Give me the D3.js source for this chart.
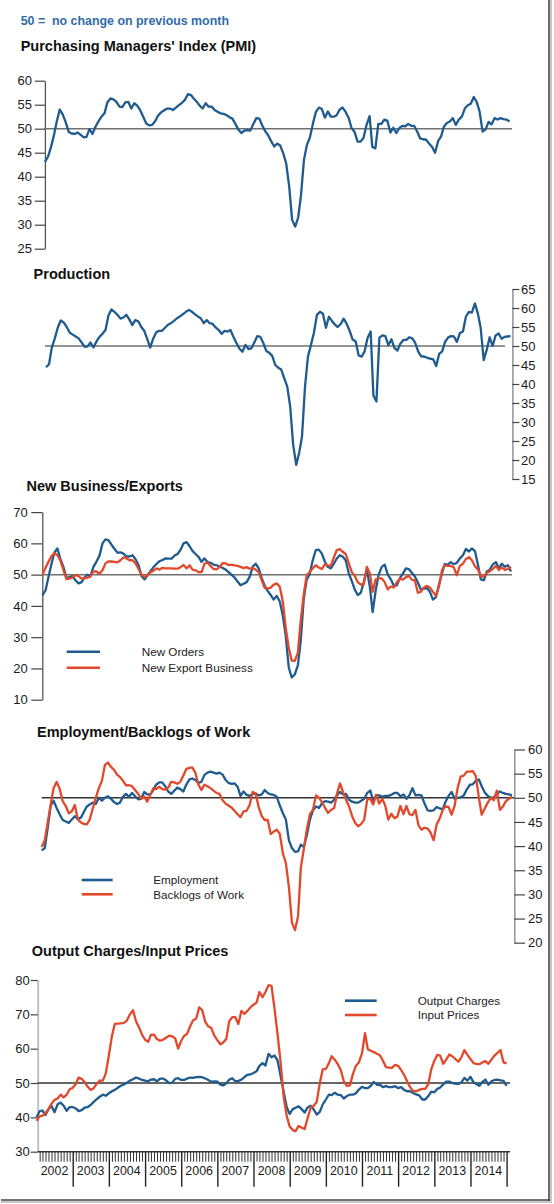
<!DOCTYPE html>
<html><head><meta charset="utf-8">
<script src="https://cdn.jsdelivr.net/npm/d3@7"></script>
<style>
body{margin:0;background:#fff}
svg{display:block}
text{font-family:"Liberation Sans",Arial,Helvetica,sans-serif}
</style>
</head><body>
<svg id="c" width="554" height="1204"></svg>
<script>
// ---------------- DATA (monthly, Jan 2002 .. Jan 2015) ----------------
const pmi = [
43.1,44.2,46,48.5,51.5,54,53,51.3,49.3,49,48.9,49.2,
48.7,48.2,48.3,49.9,48.9,50.4,51.5,52.5,53.2,55.5,56.3,56.1,
55.6,54.6,54.5,55.5,55.6,54.2,55.3,54.8,53.8,52.5,51.1,50.7,
50.8,51.6,52.7,53.4,53.8,54.2,54.2,53.9,54.4,54.9,55.4,56,
57.2,57,56.3,55.6,54.8,54.2,55.3,54.6,54.6,53.9,53.5,53.2,
53.1,52.8,52.4,52.1,51,49.8,49.1,49.6,49.7,49.6,51,52.2,
52.1,50.6,49.5,48.6,47.4,46.3,46.9,46.5,44.9,42.8,38,31,
29.6,31.5,36,43.5,46.6,48.2,51,53.5,54.4,54.1,52.3,53.6,
52.5,52.5,52.8,54,54.4,53.5,52.3,50.1,49.3,47.3,47.3,48.1,
50.8,52.6,46.2,45.9,51,51,51.9,51.7,49.2,50.2,49.1,50.1,
50.6,50.5,51,50.6,50.6,49.4,48,47.8,47.7,46.9,46.2,45,
47.4,48.4,50.4,51.2,51.5,52.2,50.8,51.9,52.5,54.2,54.9,55.2,
56.6,55.5,53.6,49.4,49.8,51.4,50.9,52.2,51.9,52.2,52,51.9,
51.5];
const production = [
44.4,45.2,49.5,52,54.8,56.7,56.2,55,53.5,53,52.5,52,
50.9,49.8,49.9,50.9,49.6,51.2,52.4,53.2,54.2,58,59.6,59,
58.2,57.2,57.5,58.2,57,55.5,56.8,56.5,55,54,51.8,49.6,
52,53.6,54,54,54.8,55.6,56,56.6,57.3,57.8,58.4,59,
59.5,59,58.4,57.8,57.3,56,56.8,56,55.8,54.9,54.2,53.2,
54,53.8,54.2,52.4,50.8,49.3,48.5,50.3,49.2,49.4,51,52.6,
52.4,50.7,48.7,48.2,47.4,45,44.3,43.8,41.5,39.4,34,24,
18.7,22,26.1,39.3,47.2,50.3,53.5,58.2,59,58.5,54.8,57.7,
56.6,55.6,55,55.8,57.2,55.8,54,51.7,51.2,47.5,47.2,48.6,
52.2,53.8,37,35.4,52.2,52.8,52.6,50.2,51.8,49.5,48.8,50.6,
51.6,51.6,52.3,52,50.8,48.5,47.3,47.2,46.9,46.7,46.5,44.7,
47.9,48.6,51,52.2,52.6,52.5,51.1,53.4,53.8,57.7,59,58.8,
61.2,58.5,54.8,46.3,48.9,52.3,50,52.8,53.3,51.9,52.4,52.5,
52.6];
const newOrders = [
43.4,45,49,53.3,57,58.4,55,52.5,48.9,49.2,49.5,48.2,
47.2,47.6,49,50,49.4,52.5,54.1,56,60,61.3,61,59.6,
58.2,57,57.1,56.7,55.8,55.8,56.2,54.9,53,49.5,48.5,49.8,
51.2,52.5,53.4,54.3,54.7,55.2,55.1,55.1,56.1,56.6,58,60,
60.4,59,57.6,56.6,55.7,54.1,55.2,54,53.8,53.2,53,52.6,
52.1,51.6,50.8,49.9,49.1,47.8,46.6,47.1,47.6,49.3,52.5,53.5,
52,48.9,46.5,44.8,43.5,42,43.2,41.5,37,30.4,20.3,17.1,
18.1,21,28.5,42,48.3,50.2,54.5,57.8,58,56.8,54.2,52.5,
52,53.5,55.1,56.2,55.8,54.6,50.5,48,45.2,43.5,44.2,47.6,
51.6,46,38,45,50,52.5,53.2,50,48.5,46.5,46.6,48.8,
50.3,52,51.8,50.6,49.5,47.5,45.2,45.5,45.7,44.5,42,42.8,
46.8,50.5,53.4,53.2,54,53.3,53.8,55.2,56.2,58.2,57.4,58.4,
57.5,53,48.5,48.2,51,51.6,53.3,54,52,53.5,52.5,53,
51];
const newExportBusiness = [
50,52.2,54,55.9,56.8,56.3,54.5,51.5,48.6,48.7,49.1,49.9,
49.5,48.7,48.9,49,49.4,51,51,50.3,51.4,53.6,54.2,54.2,
54.1,53.9,54.6,55.5,55.2,54.6,54.6,53.6,51.8,50,49.2,49.9,
50.8,51.3,52,51.6,52.2,52,52,52,51.9,51.9,52.4,53.1,
52,53,51.6,51.4,50.8,50.8,53.5,53.8,52.7,51.8,51.7,52.4,
53.7,53.6,53.1,53.1,53,52.8,52.5,52.1,52.4,51.9,52.1,51.6,
50.8,48.2,45.8,45.6,45.8,46.8,47.2,46.2,41.5,33,26.5,22.5,
22.4,25,35,43.5,49.8,50.8,52,53,52.3,51.8,53.3,53,
52.8,55.5,57.8,58.2,57.3,56.6,53.8,50.8,49.6,47.6,46.8,47,
52.5,50.3,44.5,48.5,48.8,48.8,47.6,45.3,46.2,45.9,47.6,48.7,
48.4,49.2,49.6,48.4,48.2,44.2,44.5,45.9,46.4,45.8,44.5,43.2,
46.2,51.4,53,52.8,52.8,52.3,49.8,52.8,53.5,55,55.6,54.6,
52.7,51.6,49.5,49.4,50.6,51.1,51.8,52.8,51.5,52.3,51.5,51.8,
52.5];
const employment = [
39.1,39.6,43.5,48.3,49.4,47.9,46.6,45.4,45.1,44.8,45.5,46.2,
45.6,45.9,47,48.2,48.6,49,48.7,50,49.4,50,50.3,49.8,
49.1,48.7,49,50.2,50.8,50.2,51,50.3,49.7,49.8,51.2,50.7,
50.7,51.6,52.7,53.2,53.2,52.4,51.3,50.8,51.5,52.1,51.8,51.3,
52.8,53.8,54,53.7,53.1,53.3,54.7,55.2,55.4,55.2,55,55.2,
54.8,53.7,53.1,52.9,53,52.3,50.4,51.3,50.6,50.4,50.8,50.9,
50.5,50.7,51.6,51,50.7,50.6,50.2,48.4,46.8,45.5,41.2,39.6,
38.8,38.9,40.3,39.8,42.3,45.5,47.4,48.2,47.9,48.9,49.3,49.2,
49,49.6,50.5,51.2,50.7,50.8,49.6,49.2,49,49,49.4,49.8,
51,51.5,49.3,50.5,50.5,50.2,50.4,50.4,50.6,51,51,50.3,
50.7,49.8,50.5,52,50.5,50.6,50.5,48.8,47.4,47.3,47.4,48.1,
47.8,47.6,49.2,50.4,51.2,49.8,50,50.1,50.5,51.7,52.7,52.8,
53.5,53.8,52.4,51.1,50.4,50,50.1,50.8,51.3,51,50.8,50.7,
50.5];
const backlogsOfWork = [
39.8,41.2,44.7,48.5,52,53.3,51.9,49.3,48.3,46.8,47.2,48.5,
45.5,44.9,44.6,44.5,45.5,47.8,50,52,53.5,56.8,57.3,56.4,
55.8,54.8,54.3,53.5,52.6,52.6,52.4,51.6,50.8,49.8,50.3,49.2,
50.6,52,51.8,52.3,51.8,51.7,52.1,53.3,53.2,52.9,53.3,54.6,
56,56.2,56.3,55.2,52.8,51.6,52.7,52.4,52,51.5,51,50.8,
49.5,48.8,48.4,48,47.3,46.6,46,47.2,47.3,48.5,51.2,50.9,
48,46.2,45.4,45.4,42.5,43,43.4,42.5,38.5,36.5,31.5,24.2,
22.6,25.5,35.5,39.5,43.5,46.6,47.5,50.5,50,49.1,47.9,46.9,
47.5,47.9,50.8,53,51.2,49.6,48.2,46.2,44.8,44.1,44.6,45.5,
49.7,49.8,48.6,50.6,48.8,49.8,48.4,45.5,46.7,45.8,46.1,48.3,
46.6,48.3,46.6,46.4,47.5,44.3,43.4,43.8,43.6,42.8,41.2,44.5,
45.7,47.5,48.2,48.1,46.5,48.4,52,54.4,54.6,55.4,55.4,55.5,
54.5,50,46.5,47.8,49,50,49.5,51.5,47.5,48.2,49.3,49.8,
50.3];
const outputCharges = [
40,41.8,42,40.7,42.4,43.3,41.5,43.8,44.3,43.4,41.9,43,
43,42.6,41.8,42.1,42.8,43,43.6,44.5,45.3,46,46.6,46.3,
47,47.6,48,48.6,49.2,49.6,50.1,50.7,51.1,51.6,51.3,50.9,
50.7,50.5,51,51.1,50.5,51.3,51.3,50.8,50,50.1,51.2,51.4,
50.9,50.9,51.3,51.6,51.5,51.7,51.8,51.7,51.3,50.9,50.4,50.5,
50.4,49.5,49.3,49.9,51,51.4,50.5,50.6,51,51.7,52.4,52.5,
52.9,53.4,55,55.8,55.1,58.5,57.5,58,56.5,52,47.5,43,
41,42.4,42.8,43.2,42.4,41.4,42.9,43.4,42.3,40.8,41.6,43.8,
45.2,46.6,46.5,47.2,46.6,46.5,45.5,46.2,46.6,46.6,47,48.1,
48.9,48.5,48.5,49.2,50.3,49.5,49.5,48.8,49.1,48.8,48.8,49.1,
48.5,48.8,48,47.6,47.6,47.1,46.7,46.4,45.2,45.2,46.2,47.5,
47.3,48.3,48.7,49.6,50.4,50.4,50,49.8,49.7,50.2,51.5,50.7,
51.8,50.2,49.7,49.2,50.3,51,49.5,50.5,50.9,51,50.8,50.6,
49.2];
const inputPrices = [
39,40.3,40.5,41.2,42.4,44,45.1,45.5,46.6,45.8,46.6,48.2,
48.6,49.7,51.6,51.2,50.3,48.9,48,48.5,49.8,50.7,50.7,52.8,
58,63.7,67.2,67.3,67.4,67.5,68.2,70,71.2,68,66.2,64.1,
62.6,62,64,64.1,62.8,62.3,62.6,63.2,63.8,63.6,63,60,
62.3,63.8,64.3,66.5,68.3,68.7,72,71.2,67.8,66.5,66,63.8,
62.5,61.3,61.8,62.8,68,69.2,69.2,67.2,71,70.1,71,72,
72.8,73.4,76.5,75,76.5,78.5,78.3,71.5,64,56,46,40.5,
37.3,36.3,36,37.5,37,36.6,39.8,42.8,43.4,44.5,50,54,
54.1,55.8,57.8,56.8,55.5,53.8,50.5,49.2,49.3,52.6,55,56,
58.6,64.5,59.8,59.4,59,58.5,58.1,56.5,54.6,54.5,54.4,55.3,
55,53.8,52.4,50.5,48.8,47.7,47.6,48,48.3,48.3,49.7,54,
56.5,58.2,58,55.6,56.8,58.3,57.8,57,56.2,57.5,59.6,58.2,
57,55.8,55.6,55.5,56,56.4,55.6,56.8,58,58.8,59.6,56,
55.7];

const pmiTicks = [25,30,35,40,45,50,55,60];
const productionTicks = [15,20,25,30,35,40,45,50,55,60,65];
const newBusinessTicks = [10,20,30,40,50,60,70];
const employmentTicks = [20,25,30,35,40,45,50,55,60];
const pricesTicks = [30,40,50,60,70,80];
const yearLabels = ["2002","2003","2004","2005","2006","2007","2008","2009","2010","2011","2012","2013","2014"];

// ---------------- DRAWING ----------------
const BLUE = "#1f5b8f", RED = "#e2492c";
const svg = d3.select("#c");
const months = d3.timeMonth.range(new Date(2002,0,1), new Date(2015,1,1));

function drawPanel(p){
  const x = d3.scaleTime().domain([months[0], months[months.length-1]]).range(p.xr);
  const y = d3.scaleLinear().domain(p.yd).range(p.yr);
  const ax = (p.side === "left" ? d3.axisLeft(y) : d3.axisRight(y))
      .tickValues(p.ticks).tickSize(p.tickLen).tickSizeOuter(0)
      .tickPadding(p.pad).tickFormat(d3.format("d"));
  const g = svg.append("g").attr("transform", `translate(${p.axisX},0)`).call(ax);
  g.select(".domain").attr("stroke", p.axisColor).attr("stroke-width", p.axisW);
  g.selectAll(".tick line").attr("stroke", "#444").attr("stroke-width", 1.2);
  g.selectAll(".tick text").attr("fill", "#1a1a1a")
    .style("font-size", "13px").style("font-family", '"Liberation Sans",Arial,sans-serif');
  // reference line at 50
  svg.append("line").attr("x1", p.ref[0]).attr("x2", p.ref[1])
    .attr("y1", y(50)).attr("y2", y(50))
    .attr("stroke", p.refColor).attr("stroke-width", 1.5);
  // series
  p.series.forEach((s, k) => {
    const line = d3.line().x((d, i) => x(months[i])).y(d => y(d));
    svg.append("path").datum(s).attr("d", line)
      .attr("fill", "none").attr("stroke", p.colors[k])
      .attr("stroke-width", 2.3).attr("stroke-linejoin", "round");
  });
  // title
  svg.append("text").attr("x", p.title[1]).attr("y", p.title[2])
    .text(p.title[0]).style("font-size", "14.5px").style("font-weight", "bold").attr("fill", "#111");
  // legend
  if (p.legend){
    p.legend.names.forEach((n, k) => {
      const ly = p.legend.y[k];
      svg.append("line").attr("x1", p.legend.x[0]).attr("x2", p.legend.x[1])
        .attr("y1", ly).attr("y2", ly).attr("stroke", p.colors[k]).attr("stroke-width", 2.6);
      svg.append("text").attr("x", p.legend.tx).attr("y", ly).attr("dy", "0.36em")
        .text(n).style("font-size", "11.7px").attr("fill", "#222");
    });
  }
  return {x, y};
}

// header
svg.append("text").attr("x", 20.7).attr("y", 24.7)
  .text("50 =  no change on previous month").attr("xml:space","preserve")
  .style("white-space","pre")
  .style("font-size", "12.4px").style("font-weight", "bold").attr("fill", "#2f6ca8");

drawPanel({series:[pmi], colors:[BLUE], xr:[45,509.5], yd:[25,60], yr:[248.7,80.7],
  side:"left", axisX:44.9, ticks:pmiTicks, tickLen:10, pad:3, axisColor:"#555", axisW:1.3,
  ref:[44,512], refColor:"#707070",
  title:["Purchasing Managers' Index (PMI)", 20.7, 50.5]});

drawPanel({series:[production], colors:[BLUE], xr:[46,510.6], yd:[15,65], yr:[479,289],
  side:"right", axisX:512.4, ticks:productionTicks, tickLen:7, pad:1.5, axisColor:"#999", axisW:1.6,
  ref:[45,505], refColor:"#707070",
  title:["Production", 33.6, 279]});

drawPanel({series:[newOrders, newExportBusiness], colors:[BLUE, RED], xr:[42.5,511], yd:[10,70], yr:[699.7,512.1],
  side:"left", axisX:42.3, ticks:newBusinessTicks, tickLen:11, pad:3.5, axisColor:"#555", axisW:1.3,
  ref:[42.3,512], refColor:"#707070",
  title:["New Business/Exports", 26.5, 491],
  legend:{names:["New Orders","New Export Business"], x:[66.7,100], y:[651.7,667.7], tx:141.7}});

drawPanel({series:[employment, backlogsOfWork], colors:[BLUE, RED], xr:[41.7,512], yd:[20,60], yr:[942.7,749.5],
  side:"right", axisX:514.3, ticks:employmentTicks, tickLen:10.7, pad:3, axisColor:"#999", axisW:1.6,
  ref:[41.7,514], refColor:"#333",
  title:["Employment/Backlogs of Work", 37, 736.7],
  legend:{names:["Employment","Backlogs of Work"], x:[81.7,112.7], y:[880,894.3], tx:153.3}});

const p5 = drawPanel({series:[outputCharges, inputPrices], colors:[BLUE, RED], xr:[36.6,506.6], yd:[30,80], yr:[1151.7,980],
  side:"left", axisX:37.7, ticks:pricesTicks, tickLen:7, pad:1, axisColor:"#bbb", axisW:1.8,
  ref:[37.7,510], refColor:"#333",
  title:["Output Charges/Input Prices", 31.8, 955.5],
  legend:{names:["Output Charges","Input Prices"], x:[345,376.7], y:[1000.7,1015], tx:417.7}});

// bottom time axis
const xb = p5.x;
const axisY = 1151.7;
const minorTicks = d3.timeMonth.range(new Date(2002,0,1), new Date(2015,1,1)).filter(d => d.getMonth() !== 0);
const gm = svg.append("g").attr("transform", `translate(0,${axisY})`)
  .call(d3.axisBottom(xb).tickValues(minorTicks).tickSize(10).tickSizeOuter(0).tickFormat(""));
gm.select(".domain").remove();
gm.selectAll(".tick line").attr("stroke", "#333").attr("stroke-width", 1);
const yearStarts = d3.timeYear.range(new Date(2003,0,1), new Date(2015,1,1));
const gy = svg.append("g").attr("transform", `translate(0,${axisY})`)
  .call(d3.axisBottom(xb).tickValues(yearStarts).tickSize(35).tickSizeOuter(0).tickFormat(""));
gy.select(".domain").remove();
gy.selectAll(".tick line").attr("stroke", "#222").attr("stroke-width", 1.4);
svg.append("line").attr("x1", 37.7).attr("x2", 510).attr("y1", axisY).attr("y2", axisY)
  .attr("stroke", "#333").attr("stroke-width", 1.4);
svg.append("g").selectAll("text").data(yearLabels).join("text")
  .attr("x", d => xb(new Date(+d, 6, 1)))
  .attr("y", 1175).attr("text-anchor", "middle")
  .text(d => d).style("font-size", "12.4px").attr("fill", "#1a1a1a");

// frame (right and bottom edge with shadow)
svg.append("line").attr("x1", 551).attr("x2", 551).attr("y1", 0).attr("y2", 1203).attr("stroke", "#c8c8c8").attr("stroke-width", 2);
svg.append("line").attr("x1", 1).attr("x2", 552).attr("y1", 1202).attr("y2", 1202).attr("stroke", "#c8c8c8").attr("stroke-width", 2);
svg.append("line").attr("x1", 549).attr("x2", 549).attr("y1", 0).attr("y2", 1201).attr("stroke", "#444").attr("stroke-width", 1.6);
svg.append("line").attr("x1", 1).attr("x2", 550).attr("y1", 1200).attr("y2", 1200).attr("stroke", "#444").attr("stroke-width", 1.6);
</script>
</body></html>
